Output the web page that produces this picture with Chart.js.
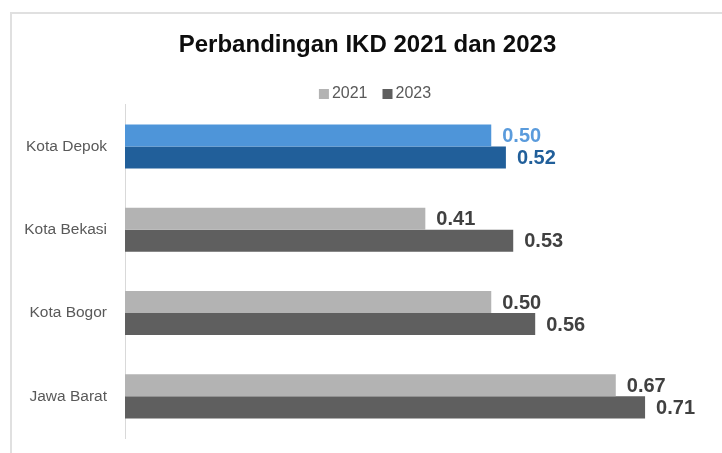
<!DOCTYPE html>
<html>
<head>
<meta charset="utf-8">
<script src="https://cdn.jsdelivr.net/npm/chart.js@4"></script>
<style>
  body { margin: 0; background: #fff; }
  #wrap { position: relative; width: 722px; height: 453px; overflow: hidden; }
  #frame { position: absolute; left: 10px; top: 12px; width: 800px; height: 500px;
           border-top: 2px solid #e0e0e0; border-left: 2px solid #e0e0e0; }
  canvas { position: absolute; left: 0; top: 0; }
</style>
</head>
<body>
<div id="wrap">
  <div id="frame"></div>
  <canvas id="chart" width="722" height="453"></canvas>
</div>
<script>
const categories = ['Kota Depok', 'Kota Bekasi', 'Kota Bogor', 'Jawa Barat'];
const seriesNames = ['2021', '2023'];
const values2021 = [0.50, 0.41, 0.50, 0.67];
const values2023 = [0.52, 0.53, 0.56, 0.71];

const grayLight = '#b3b3b3';
const grayDark = '#5f5f5f';
const blueLight = '#4e95d9';
const blueDark = '#215f9a';
// Kota Depok is highlighted in blue
const colors2021 = categories.map((c, i) => i === 0 ? blueLight : grayLight);
const colors2023 = categories.map((c, i) => i === 0 ? blueDark : grayDark);
const labelColors2021 = categories.map((c, i) => i === 0 ? '#5a9bdc' : '#404040');
const labelColors2023 = categories.map((c, i) => i === 0 ? blueDark : '#404040');
const labelColors = [labelColors2021, labelColors2023];
const legendColors = [grayLight, grayDark];

const valueLabels = {
  id: 'valueLabels',
  afterDatasetsDraw(chart) {
    const ctx = chart.ctx;
    ctx.save();
    ctx.font = 'bold 20px "Liberation Sans", Arial, sans-serif';
    ctx.textBaseline = 'middle';
    ctx.textAlign = 'left';
    chart.data.datasets.forEach((ds, di) => {
      chart.getDatasetMeta(di).data.forEach((bar, i) => {
        ctx.fillStyle = labelColors[di][i];
        ctx.fillText(ds.data[i].toFixed(2), bar.x + 11, bar.y + 1);
      });
    });
    ctx.restore();
  }
};

const customLegend = {
  id: 'customLegend',
  afterDraw(chart) {
    const ctx = chart.ctx;
    ctx.save();
    ctx.font = '16px "Liberation Sans", Arial, sans-serif';
    ctx.textBaseline = 'middle';
    const widths = seriesNames.map(n => ctx.measureText(n).width);
    const total = widths.reduce((a, w) => a + 10 + 3 + w, 0) + 15 * (seriesNames.length - 1);
    let x = 375 - total / 2;
    seriesNames.forEach((n, i) => {
      ctx.fillStyle = legendColors[i];
      ctx.fillRect(x, 89, 10, 10);
      ctx.fillStyle = '#595959';
      ctx.fillText(n, x + 13, 94);
      x += 13 + widths[i] + 15;
    });
    ctx.restore();
  }
};

new Chart(document.getElementById('chart'), {
  type: 'bar',
  data: {
    labels: categories,
    datasets: [
      { label: seriesNames[0], data: values2021, backgroundColor: colors2021 },
      { label: seriesNames[1], data: values2023, backgroundColor: colors2023 }
    ]
  },
  options: {
    indexAxis: 'y',
    responsive: false,
    animation: false,
    categoryPercentage: 0.53,
    barPercentage: 1.0,
    layout: { padding: { left: 24, right: 11, top: 0, bottom: 15 } },
    plugins: {
      legend: { display: false },
      tooltip: { enabled: false },
      title: {
        display: true,
        text: 'Perbandingan IKD 2021 dan 2023',
        color: '#0d0d0d',
        font: { family: '"Liberation Sans", Arial, sans-serif', size: 24, weight: 'bold' },
        padding: { top: 31, bottom: 45 }
      }
    },
    scales: {
      x: { display: false, min: 0, max: 0.8 },
      y: {
        grid: { display: false, drawTicks: false },
        border: { display: true, color: '#d9d9d9', width: 1 },
        ticks: {
          padding: 18,
          color: '#595959',
          font: { family: '"Liberation Sans", Arial, sans-serif', size: 15.5 }
        },
        afterFit(scale) {
          scale.width = 101;
          scale.paddingTop = 0;
          scale.paddingBottom = 0;
        }
      }
    }
  },
  plugins: [valueLabels, customLegend]
});
</script>
</body>
</html>
